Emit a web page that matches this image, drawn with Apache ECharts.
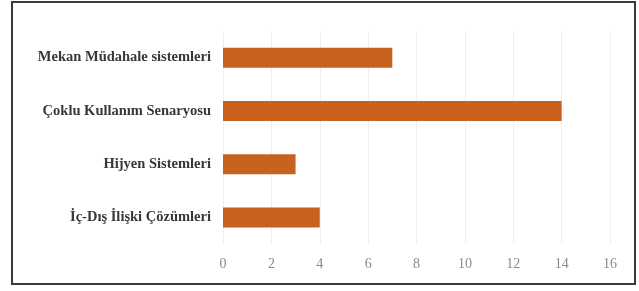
<!DOCTYPE html>
<html>
<head>
<meta charset="utf-8">
<script src="https://cdn.jsdelivr.net/npm/echarts@6/dist/echarts.min.js"></script>
<style>
html,body{margin:0;padding:0;background:#fff;}
#chart{width:639px;height:291px;}
</style>
</head>
<body>
<div id="chart"></div>
<script>
// kategoriler (alttan üste)
var categories = ['İç-Dış İlişki Çözümleri', 'Hijyen Sistemleri', 'Çoklu Kullanım Senaryosu', 'Mekan Müdahale sistemleri'];
var values = [4, 3, 14, 7];
var xTicks = [0, 16, 2];

var chart = echarts.init(document.getElementById('chart'));
var option = {
    backgroundColor: '#fff',
    animation: false,
    graphic: [{
        type: 'rect',
        shape: {x: 12, y: 2, width: 623, height: 282},
        style: {fill: 'none', stroke: '#3a3a3a', lineWidth: 2}
    }],
    grid: {left: 223, right: 29, top: 31, bottom: 47},
    xAxis: {
        type: 'value',
        min: xTicks[0],
        max: xTicks[1],
        interval: xTicks[2],
        axisLine: {show: false},
        axisTick: {show: false},
        splitLine: {lineStyle: {color: '#efefef', width: 1}},
        axisLabel: {
            margin: 13,
            color: '#8a8a8a',
            fontFamily: 'Liberation Serif',
            fontSize: 14
        }
    },
    yAxis: {
        type: 'category',
        data: categories,
        axisLine: {show: false},
        axisTick: {show: false},
        axisLabel: {
            margin: 12,
            color: '#383838',
            fontFamily: 'Liberation Serif',
            fontWeight: 'bold',
            fontSize: 14.5
        }
    },
    series: [{
        type: 'bar',
        data: values,
        barWidth: 20,
        itemStyle: {color: '#c8601e'}
    }]
};
chart.setOption(option);
</script>
</body>
</html>
